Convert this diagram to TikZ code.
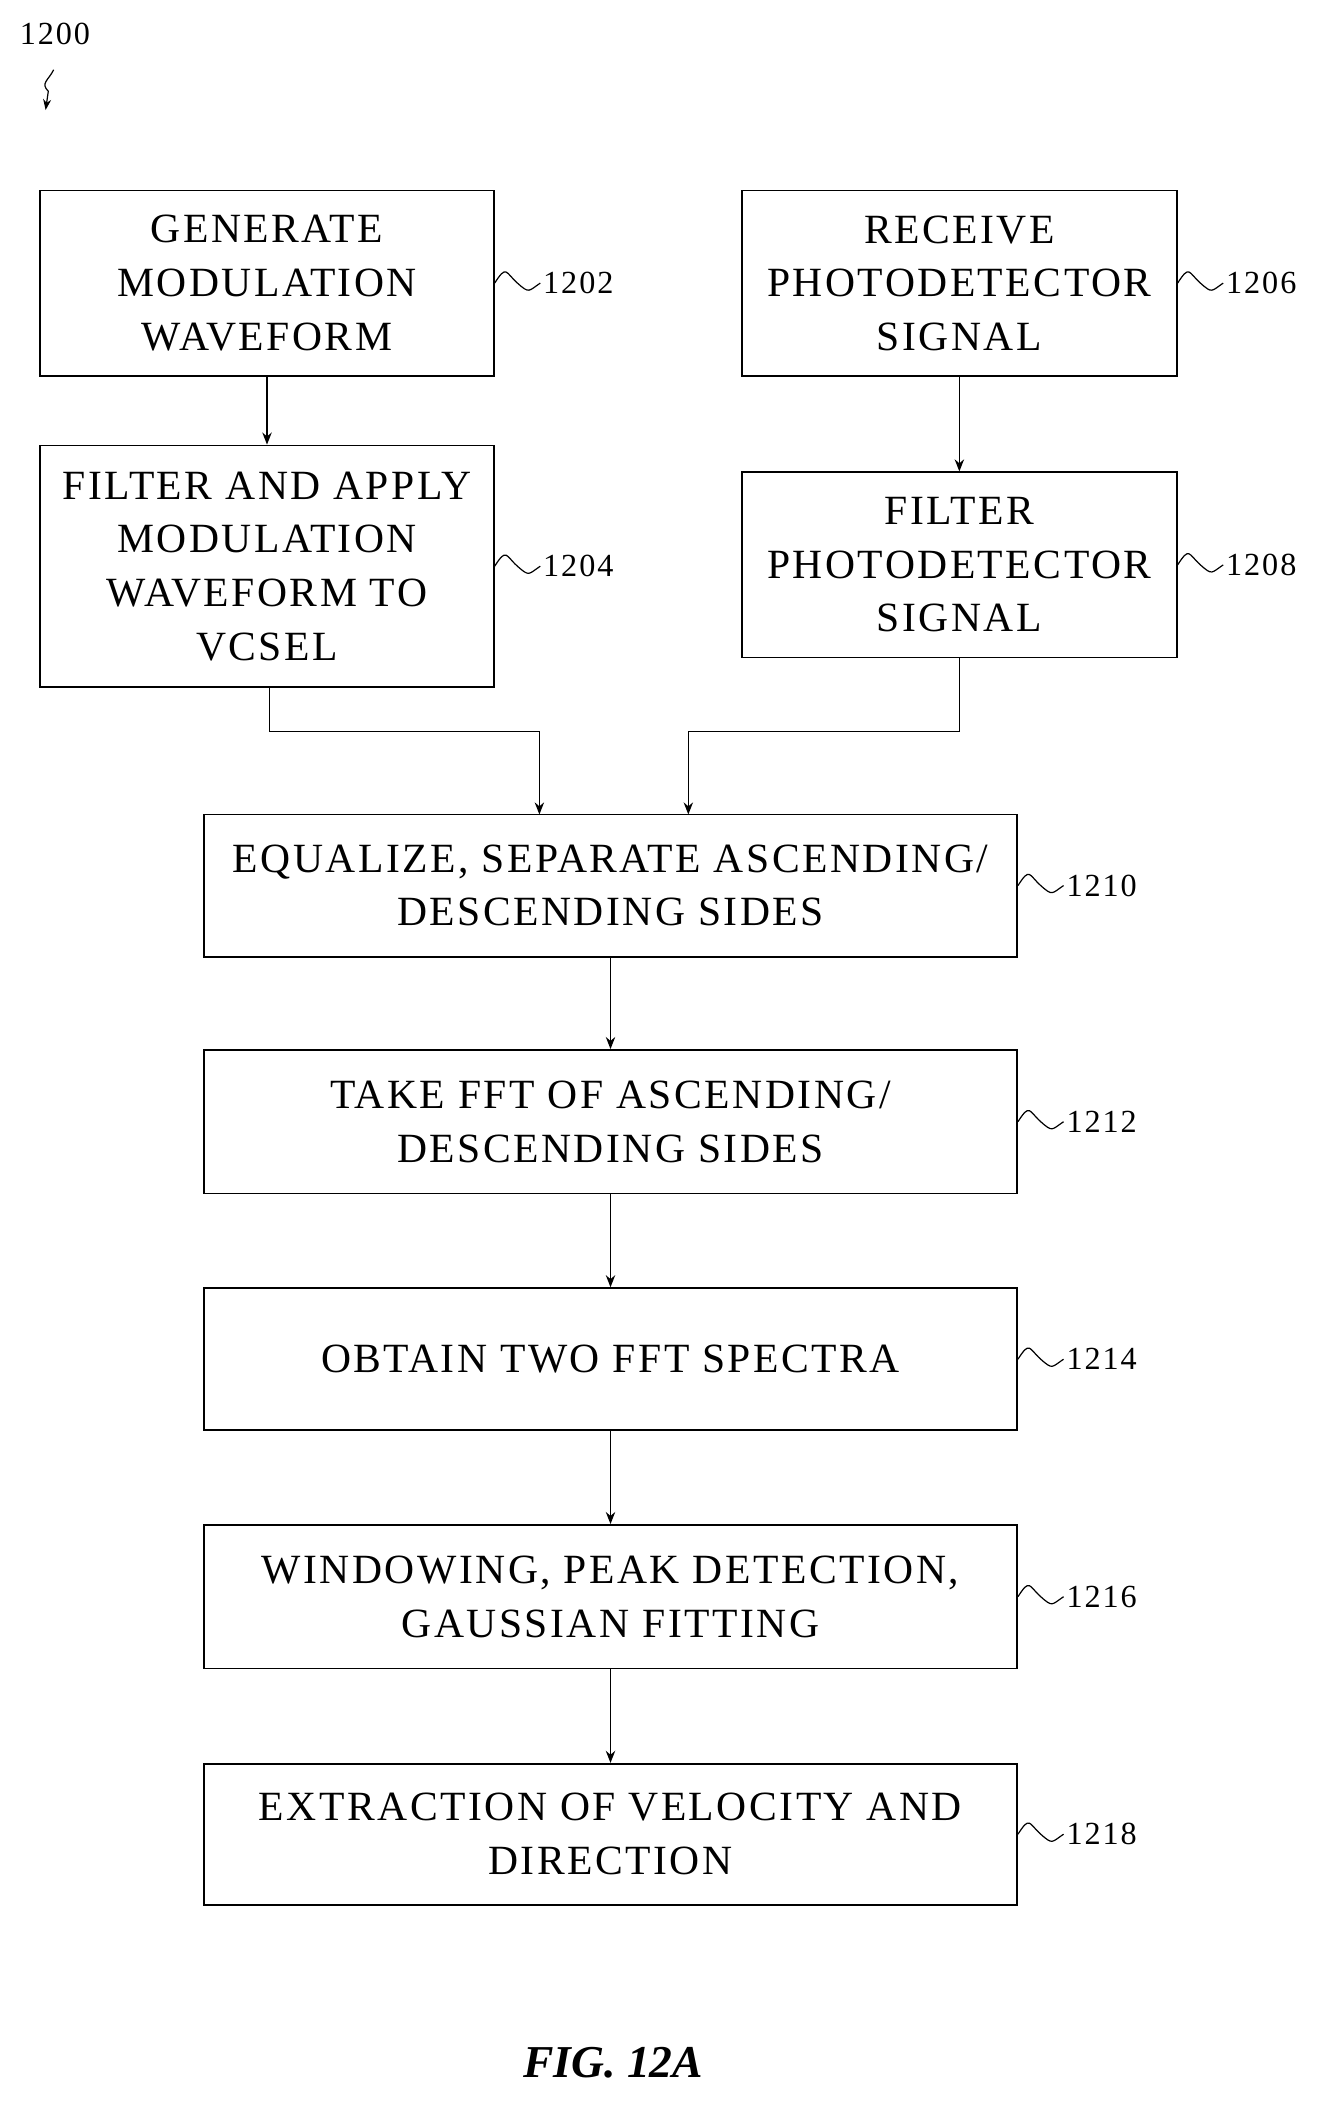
\documentclass[tikz,border=0pt]{standalone}
\usepackage{fontspec}
\setmainfont{Liberation Serif}
\newfontfamily\wideserif[LetterSpace=6]{Liberation Serif}
\usetikzlibrary{positioning,arrows.meta}

\tikzset{
  procbox/.style={draw,line width=1.3pt,align=center,inner sep=0pt,font=\wideserif\fontsize{31}{40}\selectfont},
  flow/.style={line width=1.1pt,-{Stealth[length=9pt,width=7pt]}},
  reflabel/.style={font=\wideserif\fontsize{24}{24}\selectfont,anchor=west,inner sep=0pt}
}
% wavy lead line from a box edge to its number
\newcommand{\leadto}[3]{%
  \draw[line width=0.9pt] (#1) .. controls +(9,-14) and +(-9,-8) .. ++(17,0)
    .. controls +(9,8) and +(-9,6) .. ++(17,0) coordinate (#2);
  \node[reflabel] at ([xshift=2pt]#2) {#3};}

\begin{document}
\begin{tikzpicture}[x=1pt,y=1pt,yscale=-1]
\useasboundingbox (0,0) rectangle (1000,1580);

%% upper pair of columns
\node[procbox,minimum width=338pt,minimum height=138pt] (gen) at (199,211) {GENERATE\\MODULATION\\WAVEFORM};
\node[procbox,minimum width=338pt,minimum height=180pt] (apply) at (199,422) {FILTER AND APPLY\\MODULATION\\WAVEFORM TO\\VCSEL};
\node[procbox,minimum width=324pt,minimum height=138pt] (recv) at (715,211) {RECEIVE\\PHOTODETECTOR\\SIGNAL};
\node[procbox,minimum width=324pt,minimum height=138pt] (filt) at (715,421) {FILTER\\PHOTODETECTOR\\SIGNAL};

%% main column
\node[procbox,minimum width=606pt,minimum height=106pt] (equal) at (455,660) {EQUALIZE, SEPARATE ASCENDING/\\DESCENDING SIDES};
\node[procbox,minimum width=606pt,minimum height=107pt] (fft) at (455,836) {TAKE FFT OF ASCENDING/\\DESCENDING SIDES};
\node[procbox,minimum width=606pt,minimum height=106pt] (spectra) at (455,1013) {OBTAIN TWO FFT SPECTRA};
\node[procbox,minimum width=606pt,minimum height=107pt] (window) at (455,1190) {WINDOWING, PEAK DETECTION,\\GAUSSIAN FITTING};
\node[procbox,minimum width=606pt,minimum height=105pt] (extract) at (455,1367) {EXTRACTION OF VELOCITY AND\\DIRECTION};

%% connectors
\draw[flow] (gen) -- (apply);
\draw[flow] (recv) -- (filt);
\draw[flow] ([xshift=2pt]apply.south) |- (402,545) -- (402,607);
\draw[flow] (filt.south) |- (513,545) -- (513,607);
\draw[flow] (equal) -- (fft);
\draw[flow] (fft) -- (spectra);
\draw[flow] (spectra) -- (window);
\draw[flow] (window) -- (extract);

%% reference numbers
\leadto{gen.east}{n1202}{1202}
\leadto{apply.east}{n1204}{1204}
\leadto{recv.east}{n1206}{1206}
\leadto{filt.east}{n1208}{1208}
\leadto{equal.east}{n1210}{1210}
\leadto{fft.east}{n1212}{1212}
\leadto{spectra.east}{n1214}{1214}
\leadto{window.east}{n1216}{1216}
\leadto{extract.east}{n1218}{1218}

\node[reflabel,anchor=center] (n1200) at (41,25) {1200};
\draw[line width=0.9pt,-{Stealth[length=8pt,width=6pt]}] (40,52) .. controls (36,60) and (30,62) .. (36,68) -- (34,82);

\node[font=\fontsize{34}{34}\selectfont\bfseries\itshape] (fig) at (457,1537) {FIG. 12A};
\end{tikzpicture}
\end{document}
